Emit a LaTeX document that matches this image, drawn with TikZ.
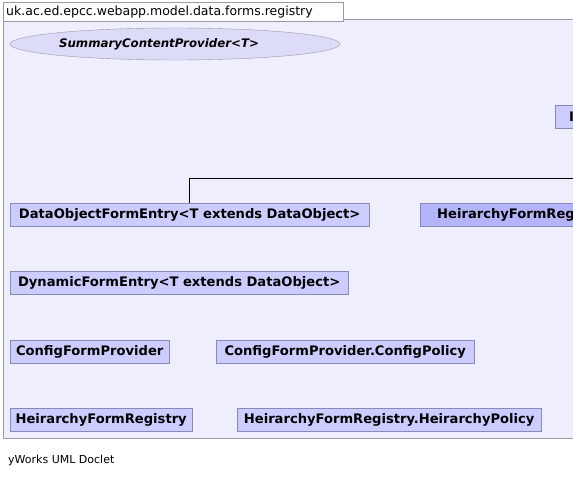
\documentclass[tikz,border=0pt]{standalone}
\usepackage{fontspec}
\setmainfont{DejaVu Sans}
\usetikzlibrary{positioning,shapes.geometric}

\definecolor{pkgfill}{HTML}{EEEEFC}
\definecolor{pkgline}{HTML}{9999A8}
\definecolor{classfill}{HTML}{CCCCFF}
\definecolor{classline}{HTML}{8A8AB8}
\definecolor{focusfill}{HTML}{B4B4FA}
\definecolor{ifacefill}{HTML}{DCDCF8}

\tikzstyle{pkgtab} = [
rectangle,
anchor=north west,
minimum width=340pt,
minimum height=17pt,
inner xsep=3pt,
text width=334pt,
align=left,
draw=pkgline,
fill=white,
font=\fontsize{12.5}{14}\selectfont
]
\tikzstyle{classbox} = [
rectangle,
anchor=north west,
minimum height=23pt,
inner xsep=4pt,
inner ysep=0pt,
text centered,
draw=classline,
fill=classfill,
font=\fontsize{13.1}{14}\selectfont\bfseries
]
\tikzstyle{iface} = [
ellipse,
minimum width=330pt,
minimum height=32pt,
inner sep=0pt,
draw=pkgline,
fill=ifacefill,
font=\fontsize{11.8}{14}\selectfont\bfseries\itshape
]
\tikzstyle{link} = [
thick,
-
]

\begin{document}
\begin{tikzpicture}[
x=1pt,
y=-1pt
]
\path[use as bounding box, clip] (0,0) rectangle (573,477);

% Package frame
\node (frame) [rectangle, anchor=north west, minimum width=620pt,
minimum height=419pt, draw=pkgline, fill=pkgfill] at (3,19) {};
\node (tab) [pkgtab] at (3,2)
{uk.ac.ed.epcc.webapp.model.data.forms.registry};

% Nodes
\node (summary) [iface] at (175,44)
{SummaryContentProvider<T>\hspace*{32pt}};

\node (policyiface) [classbox, minimum width=80pt, align=left,
text width=72pt] at (555,105)
{\hspace*{10pt}I};

\node (dataentry) [classbox, minimum width=359pt] at (10,203)
{DataObjectFormEntry<T extends DataObject>};

\node (registrybase) [classbox, fill=focusfill, minimum width=200pt,
align=left, text width=192pt] at (420,203)
{\hspace*{13pt}HeirarchyFormReg};

\node (dynentry) [classbox, minimum width=338pt] at (10,271)
{DynamicFormEntry<T extends DataObject>};

\node (configprov) [classbox, minimum width=159pt] at (10,340)
{ConfigFormProvider};

\node (configpolicy) [classbox, minimum width=258pt] at (216,340)
{ConfigFormProvider.ConfigPolicy};

\node (hierreg) [classbox, minimum width=182pt] at (10,408)
{HeirarchyFormRegistry};

\node (hierpolicy) [classbox, minimum width=304pt] at (237,408)
{HeirarchyFormRegistry.HeirarchyPolicy};

\node (doclet) [anchor=west, inner sep=0pt,
font=\fontsize{11}{13}\selectfont] at (8,460)
{yWorks UML Doclet};

% Arrows
\coordinate (offpage) at (600,178);
\draw [link] (dataentry.north) |- (offpage);

\end{tikzpicture}
\end{document}
